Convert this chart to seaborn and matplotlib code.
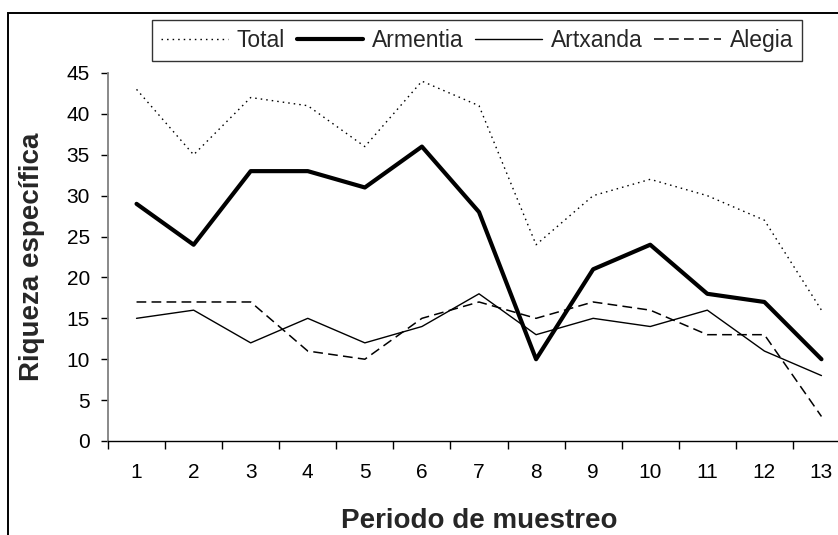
import matplotlib
matplotlib.use("Agg")
import matplotlib.pyplot as plt
from matplotlib.patches import Rectangle
from matplotlib.ticker import MultipleLocator, FixedLocator
import seaborn as sns
import pandas as pd

# Sampling periods and species richness per site
periods = list(range(1, 14))
total = [43, 35, 42, 41, 36, 44, 41, 24, 30, 32, 30, 27, 16]
armentia = [29, 24, 33, 33, 31, 36, 28, 10, 21, 24, 18, 17, 10]
artxanda = [15, 16, 12, 15, 12, 14, 18, 13, 15, 14, 16, 11, 8]
alegia = [17, 17, 17, 11, 10, 15, 17, 15, 17, 16, 13, 13, 3]

series_names = ["Total", "Armentia", "Artxanda", "Alegia"]
series_values = [total, armentia, artxanda, alegia]

sns.set_theme(style="white")
plt.rcParams["font.family"] = ["Liberation Sans", "DejaVu Sans"]
plt.rcParams["lines.scale_dashes"] = False

W, H = 838, 535
fig = plt.figure(figsize=(W / 100, H / 100), dpi=100)

# axes spans from x=108px to 850px (right part runs past the canvas)
left, right = 108 / W, 850 / W
bottom, top = (H - 441) / H, (H - 73) / H
ax = fig.add_axes([left, bottom, right - left, top - bottom])

styles = {
    "Total": dict(linewidth=1.0, linestyle=(0, (1.1, 2.9))),
    "Armentia": dict(linewidth=3.0, linestyle="-"),
    "Artxanda": dict(linewidth=1.0, linestyle="-"),
    "Alegia": dict(linewidth=1.1, linestyle=(0, (7, 3.8))),
}

for name, vals in zip(series_names, series_values):
    df = pd.DataFrame({"Periodo": periods, "Riqueza": vals})
    sns.lineplot(data=df, x="Periodo", y="Riqueza", ax=ax, color="black",
                 label=name, legend=False, **styles[name])

ax.set_xlim(0.5, 13.5)
ax.set_ylim(0, 45)
ax.yaxis.set_major_locator(MultipleLocator(5))
ax.xaxis.set_major_locator(FixedLocator(periods))
ax.xaxis.set_minor_locator(FixedLocator([p - 0.5 for p in periods] + [13.5]))
ax.set_xticklabels([str(p) for p in periods])

ax.tick_params(axis="x", which="major", length=0, pad=16, labelsize=15, colors="black")
ax.tick_params(axis="x", which="minor", length=6, width=1.0, direction="out",
               color="black", bottom=True)
ax.tick_params(axis="y", which="major", length=5, width=1.0, direction="out",
               pad=8, labelsize=15, colors="black", left=True)

for s in ["top", "right"]:
    ax.spines[s].set_visible(False)
ax.spines["left"].set_color("#808080")
ax.spines["left"].set_linewidth(1.3)
ax.spines["bottom"].set_color("black")
ax.spines["bottom"].set_linewidth(1.0)
ax.grid(False)

ax.set_xlabel("Periodo de muestreo", fontsize=20, fontweight="bold")
ax.set_ylabel("Riqueza específica", fontsize=20, fontweight="bold")
ax.xaxis.set_label_coords(0.5, (441 - 508) / (441 - 73))
ax.yaxis.set_label_coords((45 - 108) / (850 - 108), 0.5)

leg = ax.legend(loc="upper left", bbox_to_anchor=(152 / W, 1 - 20 / H),
                bbox_transform=fig.transFigure, ncol=4, frameon=True,
                fontsize=16.5, handlelength=2.9, handletextpad=0.4,
                columnspacing=0.5, borderpad=0.4, borderaxespad=0,
                fancybox=False)
leg.get_frame().set_edgecolor("black")
leg.get_frame().set_linewidth(1.0)

# outer chart frame
fig.add_artist(Rectangle((8 / W, -0.1), 1.2, (H - 13) / H + 0.1,
                         transform=fig.transFigure, fill=False,
                         edgecolor="black", linewidth=1.4))

fig.savefig("out.png", dpi=100)
